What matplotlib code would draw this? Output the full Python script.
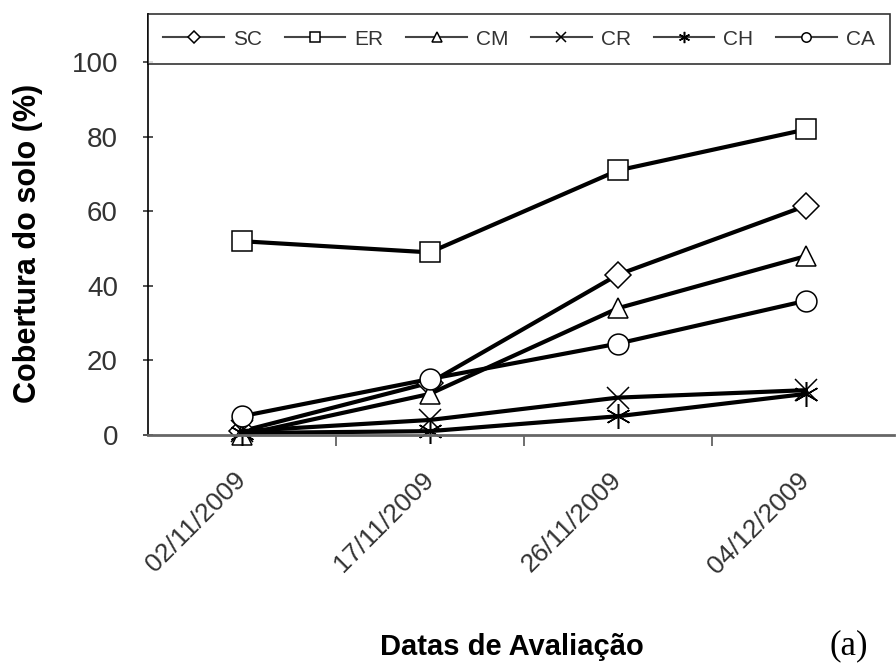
import matplotlib.pyplot as plt
import matplotlib.transforms as mtransforms

plt.rcParams['font.family'] = ['Liberation Sans', 'DejaVu Sans']

# Datas de avaliação
datas = ['02/11/2009', '17/11/2009', '26/11/2009', '04/12/2009']

# Cobertura do solo (%) por tratamento
sc = [1, 14, 43, 61.5]
er = [52, 49, 71, 82]
cm = [0, 11, 34, 48]
cr = [1, 4, 10, 12]
ch = [0.5, 1, 5, 11]
ca = [5, 15, 24.5, 36]

series = [
    ('SC', sc, 'D', 13),
    ('ER', er, 's', 15),
    ('CM', cm, '^', 15),
    ('CR', cr, 'x', 16),
    ('CH', ch, (6, 2, 0), 18),
    ('CA', ca, 'o', 15),
]

fig = plt.figure(figsize=(8.96, 6.68), dpi=100)
ax = fig.add_axes([0.165, 0.349, 0.833, 0.630])

x = list(range(len(datas)))
for nome, vals, mk, ms in series:
    ax.plot(x, vals, color='black', lw=3.0, marker=mk, markersize=ms,
            markerfacecolor='white', markeredgecolor='black',
            markeredgewidth=1.1, label=nome, clip_on=False)

ax.set_xlim(-0.5, 3.47)
ax.set_ylim(0, 113)
ax.set_yticks([0, 20, 40, 60, 80, 100])
ax.set_xticks(x)
ax.set_xticklabels(datas, rotation=45, ha='right', va='center',
                   rotation_mode='anchor', fontsize=19, color='#333333')
desloc = mtransforms.ScaledTranslation(12 / 100, 0, fig.dpi_scale_trans)
for lbl in ax.get_xticklabels():
    lbl.set_transform(lbl.get_transform() + desloc)
ax.set_xticks([0.5, 1.5, 2.5], minor=True)
ax.tick_params(axis='x', which='major', length=0, pad=30)
ax.tick_params(axis='x', which='minor', length=8, width=1.2, color='#555555', direction='out')
ax.tick_params(axis='y', length=7, width=1.2, direction='inout', labelsize=20,
               labelcolor='#333333', color='#333333', pad=18)

for s in ['top', 'right']:
    ax.spines[s].set_visible(False)
ax.spines['left'].set_linewidth(1.2)
ax.spines['bottom'].set_linewidth(2.0)
ax.spines['bottom'].set_color('#666666')

ax.set_ylabel('Cobertura do solo (%)', fontsize=22, fontweight='bold')
ax.yaxis.set_label_coords(-0.141, 0.456)
fig.text(0.571, 0.010, 'Datas de Avaliação', fontsize=21, fontweight='bold',
         ha='center', va='bottom')
fig.text(0.947, 0.008, '(a)', fontsize=25, family='Liberation Serif',
         ha='center', va='bottom')

leg = ax.legend(ncol=6, loc='upper left', bbox_to_anchor=(0, 1, 0.995, 0),
                mode='expand', borderaxespad=0, fontsize=15, markerscale=0.45,
                handlelength=2.9, frameon=True, fancybox=False, edgecolor='black',
                borderpad=0.75, handletextpad=0.45, columnspacing=1.0)
leg.get_frame().set_linewidth(1.2)
for t in leg.get_texts():
    t.set_color('#333333')
for h in leg.get_lines():
    h.set_linewidth(1.5)
    h.set_color('#444444')

fig.savefig('out.png', dpi=100)
